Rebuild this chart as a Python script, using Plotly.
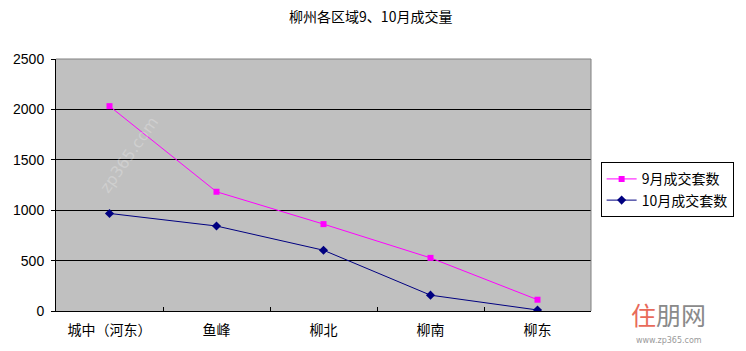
import plotly.graph_objects as go

categories = ["城中（河东）", "鱼峰", "柳北", "柳南", "柳东"]
sep_values = [2032, 1183, 862, 527, 112]
oct_values = [968, 843, 603, 157, 10]
y_ticks = [0, 500, 1000, 1500, 2000, 2500]
title_text = "柳州各区域9、10月成交量"
sep_name = "9月成交套数"
oct_name = "10月成交套数"

FONT = "Noto Sans CJK SC, SimSun, sans-serif"

fig = go.Figure()
fig.add_trace(go.Scatter(
    x=categories, y=sep_values, name=sep_name, mode="lines+markers",
    line=dict(color="#FF00FF", width=1),
    marker=dict(symbol="square", size=6, color="#FF00FF"),
))
fig.add_trace(go.Scatter(
    x=categories, y=oct_values, name=oct_name, mode="lines+markers",
    line=dict(color="#000080", width=1),
    marker=dict(symbol="diamond", size=7, color="#000080"),
))

fig.update_layout(
    width=746, height=351,
    margin=dict(l=56, r=155, t=59, b=40),
    paper_bgcolor="white",
    plot_bgcolor="#C0C0C0",
    font=dict(family=FONT, size=12, color="black"),
    title=dict(text=title_text, x=0.497, xanchor="center", y=0.95, yanchor="middle",
               font=dict(size=14, color="black", family=FONT)),
    showlegend=True,
    legend=dict(x=1.018, y=0.59, xanchor="left", yanchor="top",
                bgcolor="white", bordercolor="black", borderwidth=1,
                font=dict(size=14, family=FONT), tracegroupgap=0,
                itemwidth=30),
    xaxis=dict(
        type="category", range=[-0.5, 4.5],
        showgrid=False, showline=True, linecolor="black", linewidth=1,
        ticks="inside", ticklen=4, tickcolor="black", tickson="boundaries",
        tickfont=dict(size=14, family=FONT), ticklabelstandoff=6,
        fixedrange=True,
    ),
    yaxis=dict(
        range=[0, 2500], tickvals=y_ticks,
        showgrid=True, gridcolor="black", gridwidth=1,
        showline=True, linecolor="black", linewidth=1,
        ticks="outside", ticklen=4, tickcolor="black",
        tickfont=dict(size=14, family="Liberation Sans, Arial, sans-serif"),
        ticklabelstandoff=4,
        zeroline=False, fixedrange=True,
    ),
)

# gray plot border on top and right
fig.add_shape(type="line", xref="paper", yref="paper", x0=0, x1=1, y0=1, y1=1,
              line=dict(color="#808080", width=1))
fig.add_shape(type="line", xref="paper", yref="paper", x0=1, x1=1, y0=0, y1=1,
              line=dict(color="#808080", width=1))

# watermarks
fig.add_annotation(text="zp365.com", xref="paper", yref="paper", x=0.07, y=0.62,
                   showarrow=False, textangle=-55,
                   font=dict(size=16, color="rgba(255,255,255,0.25)", family="DejaVu Sans"))
fig.add_annotation(text="<span style='color:#E86A5A'>住</span>朋网",
                   xref="paper", yref="paper", x=1.145, y=-0.012, xanchor="center",
                   yanchor="middle", showarrow=False,
                   font=dict(size=25, color="#8A8A8A", family=FONT))
fig.add_annotation(text="www.zp365.com", xref="paper", yref="paper", x=1.145, y=-0.118,
                   xanchor="center", yanchor="middle", showarrow=False,
                   font=dict(size=8, color="#9A9A9A", family="DejaVu Sans"))

fig.write_html("out.html")
